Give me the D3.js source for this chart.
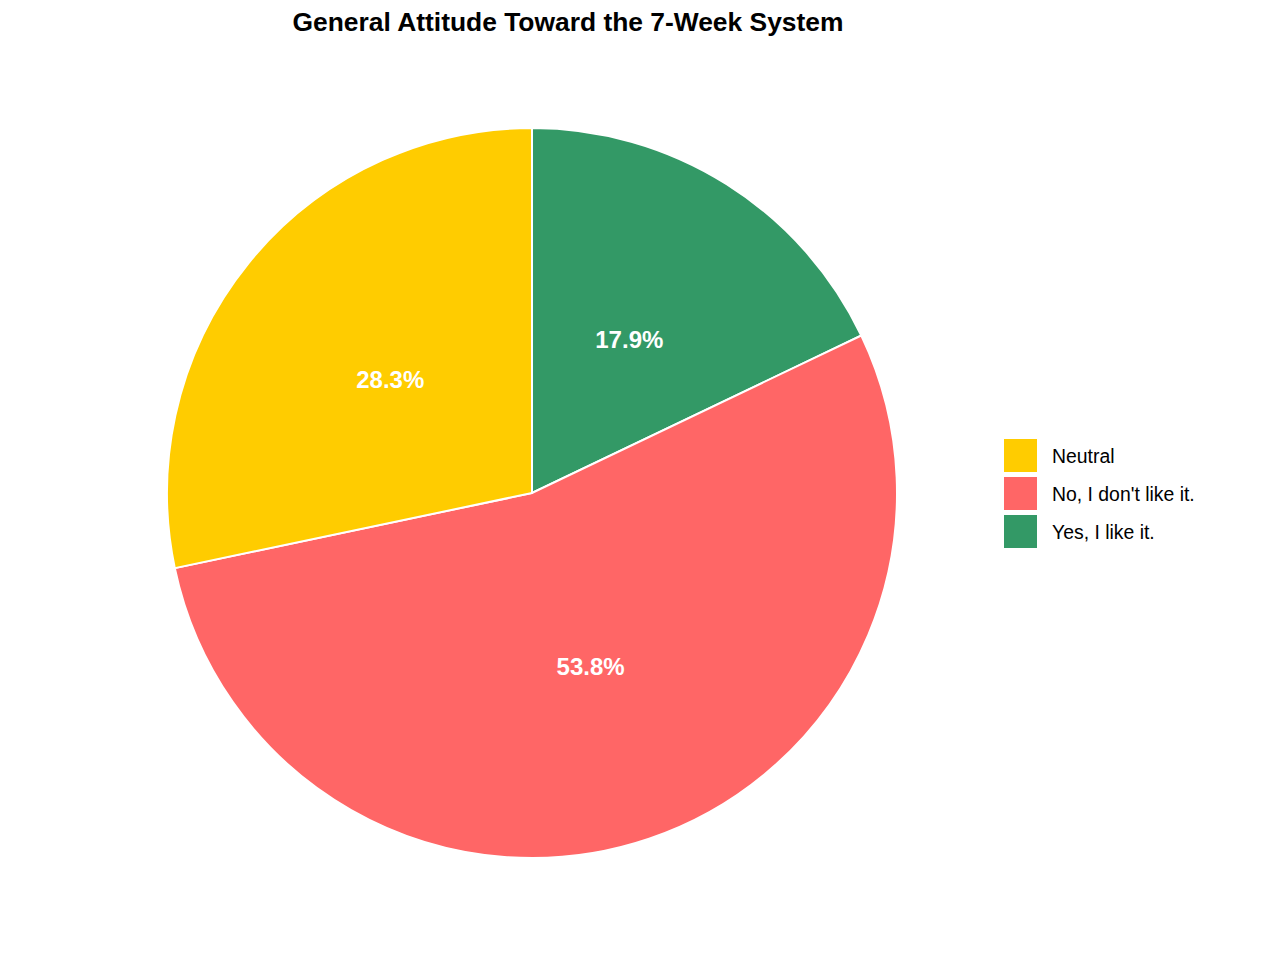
<!DOCTYPE html>
<html>
<head>
<meta charset="utf-8">
<script src="https://cdn.jsdelivr.net/npm/d3@7"></script>
<style>
  body { margin: 0; background: #fff; }
  svg { display: block; font-family: "Liberation Sans", Arial, Helvetica, sans-serif; }
</style>
</head>
<body>
<svg width="1274" height="956"></svg>
<script>
// drawing order: clockwise from 12 o'clock
var categories = ["Yes, I like it.", "No, I don't like it.", "Neutral"];
var percents = [17.9, 53.8, 28.3];
var legendOrder = ["Neutral", "No, I don't like it.", "Yes, I like it."];
var colors = ["#339966", "#FF6666", "#FFCC00"];

var svg = d3.select("svg"),
    cx = 532, cy = 493, radius = 365;

var color = d3.scaleOrdinal().domain(categories).range(colors);

var data = categories.map(function(c, i) { return {cat: c, value: percents[i]}; });

var pie = d3.pie()
    .sort(null)
    .value(function(d) { return d.value; });

var arc = d3.arc().innerRadius(0).outerRadius(radius);
var labelArc = d3.arc().innerRadius(radius * 0.5).outerRadius(radius * 0.5);

var g = svg.append("g").attr("transform", "translate(" + cx + "," + cy + ")");

var arcs = pie(data);

g.selectAll("path")
    .data(arcs)
    .enter().append("path")
    .attr("d", arc)
    .attr("fill", function(d) { return color(d.data.cat); })
    .attr("stroke", "#fff")
    .attr("stroke-width", 2);

g.selectAll("text")
    .data(arcs)
    .enter().append("text")
    .attr("transform", function(d) { return "translate(" + labelArc.centroid(d) + ")"; })
    .attr("text-anchor", "middle")
    .attr("dy", "0.4em")
    .attr("fill", "#fff")
    .attr("font-weight", "bold")
    .attr("font-size", 24)
    .text(function(d) { return d.data.value.toFixed(1) + "%"; });

svg.append("text")
    .attr("x", 568)
    .attr("y", 31)
    .attr("text-anchor", "middle")
    .attr("font-weight", "bold")
    .attr("font-size", 26.4)
    .text("General Attitude Toward the 7-Week System");

var legend = svg.append("g").attr("transform", "translate(1004,439)");

var item = legend.selectAll("g")
    .data(legendOrder)
    .enter().append("g")
    .attr("transform", function(d, i) { return "translate(0," + (i * 38) + ")"; });

item.append("rect")
    .attr("width", 33)
    .attr("height", 33)
    .attr("fill", function(d) { return color(d); });

item.append("text")
    .attr("x", 48)
    .attr("y", 17)
    .attr("dy", "0.35em")
    .attr("font-size", 19.4)
    .attr("fill", "#000")
    .text(function(d) { return d; });
</script>
</body>
</html>
